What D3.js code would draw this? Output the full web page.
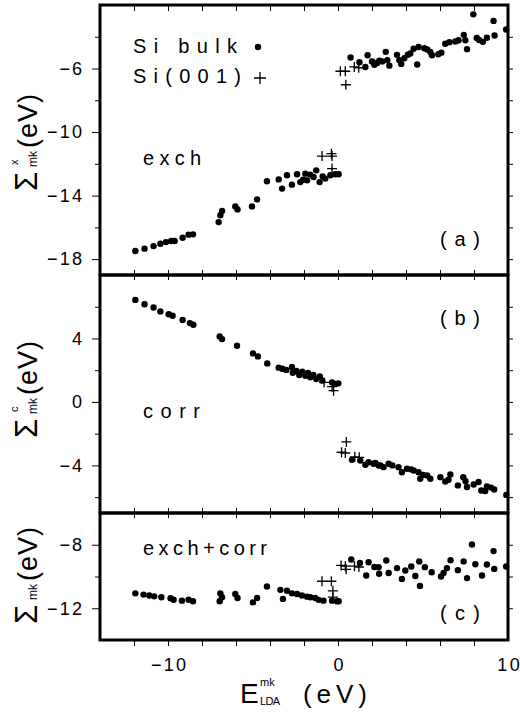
<!DOCTYPE html>
<html>
<head>
<meta charset="utf-8">
<script src="https://cdn.jsdelivr.net/npm/d3@7"></script>
<style>
  body { margin: 0; background: #fff; }
  svg { display: block; font-family: "Liberation Sans", Arial, sans-serif; }
</style>
</head>
<body>
<svg id="chart" width="520" height="712"></svg>
<script>
// [E_LDA, Sigma] pairs in eV
const exchBulk = [
  [-11.92,-17.49],[-11.38,-17.34],[-10.85,-17.18],[-10.45,-17.03],[-10.12,-16.93],[-9.81,-16.86],[-9.61,-16.86],
  [-9.14,-16.65],[-8.79,-16.46],[-8.53,-16.44],
  [-7.02,-15.67],[-6.92,-15.24],[-6.82,-14.97],[-6.04,-14.68],[-5.91,-14.87],[-5.06,-14.68],[-4.76,-14.24],
  [-4.18,-13.10],[-3.49,-12.98],[-3.29,-13.56],[-3.0,-12.72],[-2.71,-13.31],[-2.41,-12.66],[-2.22,-13.15],
  [-2.05,-13.0],[-1.92,-12.62],[-1.82,-13.04],[-1.63,-12.68],[-1.44,-12.83],[-1.28,-12.41],[-1.08,-13.15],
  [-0.9,-12.8],[-0.75,-12.93],[-0.45,-12.72],[-0.16,-12.66],[0.04,-12.66],
  [0.74,-5.31],[1.26,-5.60],[1.61,-5.90],[1.74,-5.16],[2.0,-5.56],[2.14,-5.76],[2.3,-5.65],[2.43,-5.50],
  [2.6,-5.55],[2.81,-4.95],[2.90,-5.48],[3.02,-5.82],[3.47,-5.14],[3.61,-5.48],[3.72,-5.71],[3.9,-5.35],
  [4.11,-5.13],[4.25,-5.05],[4.45,-4.75],[4.66,-5.75],[4.74,-4.64],[5.08,-4.72],[5.25,-4.8],[5.43,-4.95],
  [5.53,-5.16],[5.9,-5.1],[6.08,-5.0],[6.31,-4.44],[6.55,-4.34],[6.9,-4.3],[7.09,-4.22],[7.40,-3.88],
  [7.49,-4.22],[7.59,-4.78],[7.96,-2.59],[8.16,-4.08],[8.3,-4.2],[8.52,-4.32],[8.76,-4.06],[9.15,-3.0],
  [9.21,-3.92],[9.89,-3.54]
];
const exchSurf = [
  [-0.94,-11.51],[-0.39,-11.36],[-0.35,-11.51],[-0.35,-12.30],
  [0.14,-6.17],[0.43,-6.17],[0.46,-7.02],[0.96,-5.90],[1.22,-5.95]
];
const corrBulk = [
  [-11.92,6.43],[-11.38,6.16],[-10.85,5.95],[-10.45,5.70],[-9.96,5.53],[-9.73,5.43],[-9.14,5.16],
  [-8.71,4.97],[-8.51,4.86],
  [-6.96,4.13],[-6.82,3.96],[-5.94,3.54],[-5.0,3.06],[-4.71,2.87],
  [-4.16,2.43],[-3.49,2.16],[-3.28,2.09],[-3.04,2.02],[-2.71,2.20],[-2.66,1.84],[-2.45,1.95],[-2.28,1.69],
  [-2.10,1.91],[-1.92,1.65],[-1.76,1.82],[-1.63,1.55],[-1.45,1.70],[-1.28,1.45],[-1.07,1.61],[-0.92,1.34],
  [-0.35,1.23],[-0.16,1.13],[0.02,1.17],
  [0.82,-3.65],[1.31,-3.69],[1.61,-3.96],[1.80,-3.80],[2.09,-3.90],[2.2,-3.85],[2.39,-4.01],[2.5,-4.0],
  [2.68,-4.11],[2.98,-3.90],[3.2,-4.0],[3.56,-4.11],[3.76,-4.43],[4.06,-4.21],[4.3,-4.25],[4.45,-4.32],
  [4.74,-4.43],[4.84,-4.84],[5.0,-4.6],[5.24,-4.64],[5.43,-4.84],[6.02,-4.74],[6.31,-5.01],[6.5,-4.9],
  [6.61,-4.57],[7.05,-5.26],[7.37,-4.74],[7.5,-5.0],[7.59,-5.36],[7.98,-5.20],[8.27,-5.05],[8.43,-5.58],
  [8.66,-5.61],[8.76,-5.33],[9.0,-5.4],[9.19,-5.52],[9.90,-5.86]
];
const corrSurf = [
  [-0.82,1.23],[-0.35,0.96],[-0.26,0.71],
  [0.21,-3.17],[0.43,-3.22],[0.49,-2.52],[0.99,-3.46],[1.25,-3.49]
];
const totalBulk = [
  [-11.92,-11.06],[-11.44,-11.14],[-11.10,-11.20],[-10.81,-11.25],[-10.39,-11.31],[-9.85,-11.37],[-9.67,-11.46],
  [-9.18,-11.52],[-8.79,-11.46],[-8.53,-11.56],
  [-6.92,-11.06],[-6.96,-11.56],[-6.82,-11.31],[-6.04,-11.10],[-5.91,-11.35],[-5.0,-11.63],[-4.76,-11.35],
  [-4.18,-10.63],[-3.39,-10.84],[-3.24,-11.41],[-3.0,-10.89],[-2.71,-11.06],[-2.41,-11.10],[-2.12,-11.20],
  [-1.82,-11.27],[-1.63,-11.31],[-1.34,-11.35],[-1.14,-11.47],[-0.85,-11.52],[-0.35,-11.52],[-0.06,-11.56],
  [0.04,-11.56],
  [0.78,-8.93],[1.29,-9.15],[1.66,-9.94],[1.80,-9.10],[2.14,-9.40],[2.39,-9.41],[2.42,-9.83],[2.84,-8.99],
  [2.98,-9.78],[3.47,-9.47],[3.76,-10.15],[3.96,-9.62],[4.31,-9.37],[4.55,-9.97],[4.78,-9.05],[4.82,-10.60],
  [5.11,-9.41],[5.51,-9.73],[6.06,-10.0],[6.21,-9.78],[6.41,-9.47],[6.62,-8.97],[7.05,-9.60],[7.39,-9.05],
  [7.59,-10.10],[7.88,-7.98],[8.08,-9.23],[8.47,-9.94],[8.76,-9.24],[9.15,-8.40],[9.19,-9.52],[9.89,-9.37]
];
const totalSurf = [
  [-0.94,-10.3],[-0.39,-10.3],[-0.3,-10.9],[-0.3,-11.3],
  [0.18,-9.3],[0.43,-9.35],[0.48,-9.55],[0.97,-9.35],[1.23,-9.4]
];

const xTicks = [-12, -10, -8, -6, -4, -2, 0, 2, 4, 6, 8];
const xTickLabels = [-10, 0, 10];
const exchTicks = [-18, -16, -14, -12, -10, -8, -6, -4];
const exchTickLabels = [-18, -14, -10, -6];
const corrTicks = [-6, -4, -2, 0, 2, 4, 6];
const corrTickLabels = [-4, 0, 4];
const totalTicks = [-12, -10, -8];
const totalTickLabels = [-12, -8];

const left = 100, right = 508;
const svg = d3.select('#chart');
const x = d3.scaleLinear().domain([-14, 10]).range([left, right]);
const fmt = v => (v < 0 ? '\u2212' : '') + Math.abs(v);

const panels = [
  { top: 5, bottom: 275, domain: [-19, -2], bulk: exchBulk, surf: exchSurf,
    ticks: exchTicks, labels: exchTickLabels, name: 'exch', nameW: 58, nameY: 165,
    tag: '(a)', tagY: 246, sup: 'x', labelY: 191 },
  { top: 275, bottom: 513, domain: [-7, 8], bulk: corrBulk, surf: corrSurf,
    ticks: corrTicks, labels: corrTickLabels, name: 'corr', nameW: 57, nameY: 418,
    tag: '(b)', tagY: 325, sup: 'c', labelY: 438 },
  { top: 513, bottom: 640, domain: [-14, -6], bulk: totalBulk, surf: totalSurf,
    ticks: totalTicks, labels: totalTickLabels, name: 'exch+corr', nameW: 124, nameY: 555,
    tag: '(c)', tagY: 620, sup: null, labelY: 624 }
];

function styleTickText(sel, size) {
  sel.selectAll('text')
    .attr('fill', '#000')
    .style('font-size', size + 'px')
    .each(function() {
      const t = d3.select(this).text();
      if (t.length > 1) d3.select(this).attr('textLength', t.length * 12.3 - 2).attr('lengthAdjust', 'spacing');
    });
}

panels.forEach((p, i) => {
  const y = d3.scaleLinear().domain(p.domain).range([p.bottom, p.top]);
  const last = i === panels.length - 1;

  // y ticks, minor then labelled
  const minor = p.ticks.filter(v => !p.labels.includes(v));
  svg.append('g').attr('transform', `translate(${left},0)`)
    .call(d3.axisLeft(y).tickValues(minor).tickSize(5).tickFormat(''))
    .call(g => g.select('.domain').remove());
  svg.append('g').attr('transform', `translate(${left},0)`)
    .call(d3.axisLeft(y).tickValues(p.labels).tickSize(8).tickPadding(10).tickFormat(fmt))
    .call(g => g.select('.domain').remove())
    .call(g => styleTickText(g, 18));
  svg.append('g').attr('transform', `translate(${right},0)`)
    .call(d3.axisRight(y).tickValues(p.ticks).tickSize(5).tickFormat(''))
    .call(g => g.select('.domain').remove());

  // x ticks
  if (i === 0) {
    svg.append('g').attr('transform', `translate(0,${p.top})`)
      .call(d3.axisTop(x).tickValues(xTicks).tickSize(-6).tickFormat(''))
      .call(g => g.select('.domain').remove());
  }
  if (last) {
    svg.append('g').attr('transform', `translate(0,${p.bottom})`)
      .call(d3.axisBottom(x).tickValues(xTicks).tickSize(6).tickFormat(''))
      .call(g => g.select('.domain').remove());
    svg.append('g').attr('transform', `translate(0,${p.bottom})`)
      .call(d3.axisBottom(x).tickValues(xTickLabels).tickSize(0).tickPadding(18).tickFormat(fmt))
      .call(g => g.select('.domain').remove())
      .call(g => styleTickText(g, 18));
  } else {
    svg.append('g').attr('transform', `translate(0,${p.bottom - 5})`)
      .call(d3.axisBottom(x).tickValues(xTicks).tickSize(10).tickFormat(''))
      .call(g => g.select('.domain').remove());
  }

  // points
  svg.append('g').selectAll('circle')
    .data(p.bulk).enter().append('circle')
    .attr('cx', d => x(d[0])).attr('cy', d => y(d[1])).attr('r', 3.2).attr('fill', '#000');
  svg.append('g').selectAll('path')
    .data(p.surf).enter().append('path')
    .attr('d', d => `M${x(d[0]) - 5},${y(d[1])}h10M${x(d[0])},${y(d[1]) - 5}v10`)
    .attr('stroke', '#000').attr('stroke-width', 1.3);

  // panel texts
  svg.append('text').attr('x', 143).attr('y', p.nameY).text(p.name)
    .style('font-size', '20px').attr('textLength', p.nameW).attr('lengthAdjust', 'spacing');
  svg.append('text').attr('x', 440).attr('y', p.tagY).text(p.tag)
    .style('font-size', '20px').attr('textLength', 40).attr('lengthAdjust', 'spacing');

  // y label
  const yl = svg.append('g').attr('transform', `translate(37,${p.labelY}) rotate(-90)`);
  yl.append('text').attr('x', 0).attr('y', 0).text('\u03A3').style('font-size', '31px');
  if (p.sup) yl.append('text').attr('x', 26).attr('y', -19).text(p.sup).style('font-size', '11px');
  yl.append('text').attr('x', 24).attr('y', 0).text('mk').style('font-size', '12px');
  yl.append('text').attr('x', 43).attr('y', 0).text('(eV)').style('font-size', '27px')
    .attr('textLength', 54).attr('lengthAdjust', 'spacing');

  // frame
  svg.append('rect').attr('x', left).attr('y', p.top).attr('width', right - left)
    .attr('height', p.bottom - p.top).attr('fill', 'none').attr('stroke', '#000').attr('stroke-width', 3);
});

// legend
svg.append('text').attr('x', 133).attr('y', 53).text('Si bulk')
  .style('font-size', '20px').attr('textLength', 104).attr('lengthAdjust', 'spacing');
svg.append('circle').attr('cx', 258).attr('cy', 47).attr('r', 3.2).attr('fill', '#000');
svg.append('text').attr('x', 133).attr('y', 83).text('Si(001)')
  .style('font-size', '20px').attr('textLength', 108).attr('lengthAdjust', 'spacing');
svg.append('path').attr('d', 'M254,78h12M260,72v12').attr('stroke', '#000').attr('stroke-width', 1.3);

// x label
svg.append('text').attr('x', 240).attr('y', 703).text('E').style('font-size', '28px');
svg.append('text').attr('x', 260).attr('y', 686).text('mk').style('font-size', '11px');
svg.append('text').attr('x', 260).attr('y', 705).text('LDA').style('font-size', '11px')
  .attr('textLength', 20).attr('lengthAdjust', 'spacing');
svg.append('text').attr('x', 303).attr('y', 703).text('(eV)').style('font-size', '26px')
  .attr('textLength', 64).attr('lengthAdjust', 'spacing');
</script>
</body>
</html>
